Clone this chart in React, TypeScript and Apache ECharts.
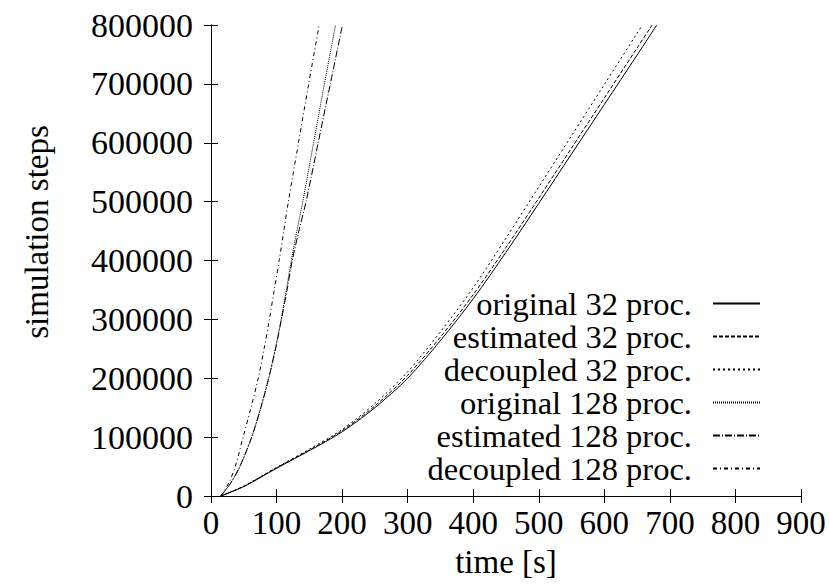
import React, { useEffect, useRef } from "react";
import * as echarts from "echarts";

const seriesNames = [
  "original 32 proc.",
  "estimated 32 proc.",
  "decoupled 32 proc.",
  "original 128 proc.",
  "estimated 128 proc.",
  "decoupled 128 proc.",
];

const original32Time = [15, 50, 100, 150, 200, 250, 300, 350, 400, 450, 500, 550, 600, 650, 680];
const original32Steps = [0, 16000, 47000, 77000, 109000, 150000, 200000, 264000, 335000, 414000, 497000, 581000, 665000, 749000, 800000];

const estimated32Time = [15, 50, 100, 150, 200, 250, 300, 350, 400, 450, 500, 550, 600, 650, 673];
const estimated32Steps = [0, 16500, 48000, 78000, 111000, 153000, 205000, 270000, 342000, 422000, 506000, 591000, 676000, 761000, 800000];

const decoupled32Time = [15, 50, 100, 150, 200, 250, 300, 350, 400, 450, 500, 550, 600, 650, 658];
const decoupled32Steps = [0, 17000, 48500, 79500, 113000, 157000, 211000, 279000, 354000, 438000, 525000, 612000, 699000, 786000, 800000];

const original128Time = [15, 30, 44, 62, 76, 88, 98, 107, 115, 122.5, 131, 140, 156.5, 173, 190];
const original128Steps = [0, 22000, 50000, 100000, 150000, 200000, 250000, 300000, 350000, 400000, 450000, 500000, 600000, 700000, 800000];

const estimated128Time = [15, 30, 44, 62, 76, 88, 98.5, 107.5, 116, 124, 134, 145, 163.5, 182, 200.5];
const estimated128Steps = [0, 22000, 50000, 100000, 150000, 200000, 250000, 300000, 350000, 400000, 450000, 500000, 600000, 700000, 800000];

const decoupled128Time = [15, 27, 37, 49, 61, 72, 81, 89, 96.5, 104, 111, 118, 133.5, 149, 165];
const decoupled128Steps = [0, 22000, 50000, 100000, 150000, 200000, 250000, 300000, 350000, 400000, 450000, 500000, 600000, 700000, 800000];

const xLabel = "time [s]";
const yLabel = "simulation steps";

const FONT = "Liberation Serif";

function zip(t: number[], s: number[]) {
  return t.map((v, i) => [v, s[i]]);
}

const seriesData = [
  zip(original32Time, original32Steps),
  zip(estimated32Time, estimated32Steps),
  zip(decoupled32Time, decoupled32Steps),
  zip(original128Time, original128Steps),
  zip(estimated128Time, estimated128Steps),
  zip(decoupled128Time, decoupled128Steps),
];

const dashes: any[] = [
  "solid",
  [4, 2],
  [2, 3],
  [1, 1],
  [7, 2, 1, 2],
  [4, 3, 1, 3],
];

export default function App() {
  const ref = useRef<HTMLDivElement>(null);
  useEffect(() => {
    if (!ref.current) return;
    const chart = echarts.init(ref.current, undefined, { renderer: "svg" });
    const axisBase = {
      type: "value" as const,
      axisLine: { show: true, lineStyle: { color: "#000", width: 1 } },
      axisTick: { show: true, inside: true, length: 7, lineStyle: { color: "#000", width: 1 } },
      splitLine: { show: false },
    };
    chart.setOption({
      animation: false,
      backgroundColor: "#fff",
      textStyle: { fontFamily: FONT, color: "#000" },
      grid: { left: 211, right: 29, top: 25, bottom: 88 },
      xAxis: [
        {
          ...axisBase,
          min: 0,
          max: 900,
          interval: 100,
          position: "bottom",
          axisLabel: { fontSize: 33, color: "#000", fontFamily: FONT, margin: 10, formatter: (v: number) => String(v) },
        },
        {
          ...axisBase,
          min: 0,
          max: 900,
          interval: 100,
          position: "top",
          axisLabel: { show: false },
        },
      ],
      yAxis: [
        {
          ...axisBase,
          min: 0,
          max: 800000,
          interval: 100000,
          position: "left",
          axisLabel: { fontSize: 34, color: "#000", fontFamily: FONT, margin: 18, formatter: (v: number) => String(v) },
        },
        {
          ...axisBase,
          min: 0,
          max: 800000,
          interval: 100000,
          position: "right",
          axisLabel: { show: false },
        },
      ],
      legend: {
        orient: "vertical",
        align: "right",
        right: 69,
        top: 287,
        padding: 0,
        itemGap: 0,
        itemWidth: 47,
        itemHeight: 14,
        itemStyle: { opacity: 0 },
        textStyle: { fontSize: 32.5, color: "#000", fontFamily: FONT, padding: [0, 16, 0, 0] },
        data: seriesNames,
      },
      graphic: [
        {
          type: "text",
          x: 37,
          y: 232,
          rotation: Math.PI / 2,
          style: {
            text: yLabel,
            fontSize: 33,
            fontFamily: FONT,
            fill: "#000",
            align: "center",
            verticalAlign: "middle",
          },
        },
        {
          type: "text",
          x: 506,
          y: 562,
          style: {
            text: xLabel,
            fontSize: 33,
            fontFamily: FONT,
            fill: "#000",
            align: "center",
            verticalAlign: "middle",
          },
        },
      ],
      series: seriesNames.map((name, i) => ({
        name,
        type: "line",
        xAxisIndex: 0,
        yAxisIndex: 0,
        data: seriesData[i],
        showSymbol: false,
        symbol: "none",
        smooth: 0.3,
        clip: true,
        lineStyle: { color: "#000", width: 1, type: dashes[i] },
        itemStyle: { color: "#000" },
      })),
    });
    return () => chart.dispose();
  }, []);
  return <div ref={ref} style={{ width: 830, height: 584, position: "absolute", left: 0, top: 0 }} />;
}
